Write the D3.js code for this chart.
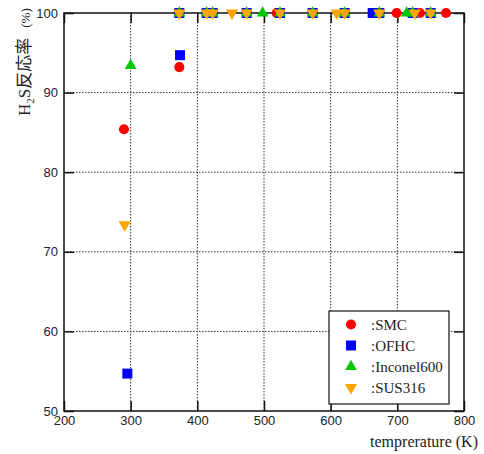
<!DOCTYPE html>
<html>
<head>
<meta charset="utf-8">
<script src="https://cdn.jsdelivr.net/npm/d3@7"></script>
<style>
  body { margin: 0; background: #fff; }
  svg text { fill: #222; }
</style>
</head>
<body>
<svg id="chart" width="484" height="454"></svg>
<script>
// data: [temperature K, H2S reaction %]
var smc = [[290, 85.4], [373, 93.2], [519, 100], [699, 100], [734, 100], [773, 100]];
var ofhc = [[295, 54.7], [374, 94.7], [373, 100], [414, 100], [423, 100], [474, 100], [524, 100],
            [573, 100], [621, 100], [663, 100], [673, 100], [723, 100], [750, 100]];
var inconel = [[300, 93.4], [373, 100], [414, 100], [423, 100], [474, 100], [498, 100], [524, 100],
               [573, 100], [621, 100], [673, 100], [714, 100], [723, 100], [750, 100]];
var sus = [[291, 73.4], [373, 100], [414, 100], [423, 100], [452, 100], [474, 100], [524, 100],
           [573, 100], [609, 100], [621, 100], [673, 100], [726, 100], [750, 100]];
var xTicks = [200, 300, 400, 500, 600, 700, 800];
var yTicks = [50, 60, 70, 80, 90, 100];
var seriesNames = [":SMC", ":OFHC", ":Inconel600", ":SUS316"];

(function(){
var pl = 64, pr = 464, pt = 13, pb = 411;
var svg = d3.select("#chart");

var x = d3.scaleLinear().domain([200, 800]).range([pl, pr]);
var y = d3.scaleLinear().domain([50, 100]).range([pb, pt]);

// dotted grid
var grid = svg.append("g");
grid.selectAll("line.gx").data(xTicks.slice(1, -1)).enter().append("line")
    .attr("x1", function(d){ return x(d); }).attr("x2", function(d){ return x(d); })
    .attr("y1", pt).attr("y2", pb)
    .attr("stroke", "#333").attr("stroke-width", 1).attr("stroke-dasharray", "1.5,1.5");
grid.selectAll("line.gy").data(yTicks.slice(1, -1)).enter().append("line")
    .attr("y1", function(d){ return y(d); }).attr("y2", function(d){ return y(d); })
    .attr("x1", pl).attr("x2", pr)
    .attr("stroke", "#333").attr("stroke-width", 1).attr("stroke-dasharray", "1.5,1.5");

// axes with inward ticks
var tickFont = "13px 'Liberation Sans', Arial, sans-serif";
svg.append("g").attr("transform", "translate(0," + pb + ")")
    .call(d3.axisBottom(x).tickValues(xTicks).tickSizeInner(-10).tickSizeOuter(0).tickPadding(5))
    .call(function(g){ g.select(".domain").remove(); g.selectAll("text").style("font", tickFont); });
svg.append("g").attr("transform", "translate(" + pl + ",0)")
    .call(d3.axisLeft(y).tickValues(yTicks).tickSizeInner(-10).tickSizeOuter(0).tickPadding(6))
    .call(function(g){ g.select(".domain").remove(); g.selectAll("text").style("font", tickFont); });
svg.append("g").attr("transform", "translate(0," + pt + ")")
    .call(d3.axisTop(x).tickValues(xTicks).tickSizeInner(-10).tickSizeOuter(0).tickFormat(""))
    .call(function(g){ g.select(".domain").remove(); });
svg.append("g").attr("transform", "translate(" + pr + ",0)")
    .call(d3.axisRight(y).tickValues(yTicks).tickSizeInner(-10).tickSizeOuter(0).tickFormat(""))
    .call(function(g){ g.select(".domain").remove(); });
svg.selectAll(".tick line").attr("stroke", "#111").attr("stroke-width", 1.5);

// frame
svg.append("rect").attr("x", pl).attr("y", pt)
    .attr("width", pr - pl).attr("height", pb - pt)
    .attr("fill", "none").attr("stroke", "#111").attr("stroke-width", 1.5);

// markers
var shapes = [
  { data: smc, color: "#ff0000", sym: d3.symbolCircle, size: 80 },
  { data: ofhc, color: "#0000ff", sym: d3.symbolSquare, size: 100 },
  { data: inconel, color: "#00c800", sym: d3.symbolTriangle, size: 60 },
  { data: sus, color: "#ffa500", sym: d3.symbolTriangle, size: 65, flip: true }
];
shapes.forEach(function(s){
  svg.append("g").selectAll("path").data(s.data).enter().append("path")
      .attr("d", d3.symbol().type(s.sym).size(s.size))
      .attr("transform", function(d){
        return "translate(" + x(d[0]) + "," + y(d[1]) + ")" + (s.flip ? " rotate(180)" : "");
      })
      .attr("fill", s.color);
});

// legend
var lg = svg.append("g").attr("transform", "translate(329,311)");
lg.append("rect").attr("width", 120).attr("height", 93)
    .attr("fill", "#fff").attr("stroke", "#111").attr("stroke-width", 1.2);
shapes.forEach(function(s, i){
  var cy = 13.5 + i * 21;
  lg.append("path").attr("d", d3.symbol().type(s.sym).size(s.size))
      .attr("transform", "translate(22," + cy + ")" + (s.flip ? " rotate(180)" : ""))
      .attr("fill", s.color);
  lg.append("text").attr("x", 42).attr("y", cy + 5)
      .style("font", "15px 'Liberation Serif', 'Times New Roman', serif")
      .text(seriesNames[i]);
});

// axis titles
svg.append("text").attr("x", 478).attr("y", 447).attr("text-anchor", "end")
    .style("font", "16px 'Liberation Serif', 'Times New Roman', serif")
    .text("temprerature (K)");
var yt = svg.append("text").attr("transform", "translate(30,116) rotate(-90)")
    .style("font", "17px 'Liberation Serif', 'Noto Sans CJK JP', serif");
yt.append("tspan").text("H");
yt.append("tspan").attr("dy", 4).style("font-size", "11px").text("2");
yt.append("tspan").attr("dy", -4).text("S反応率");
yt.append("tspan").attr("dx", 10).style("font-size", "13px").text("(%)");
})();
</script>
</body>
</html>
